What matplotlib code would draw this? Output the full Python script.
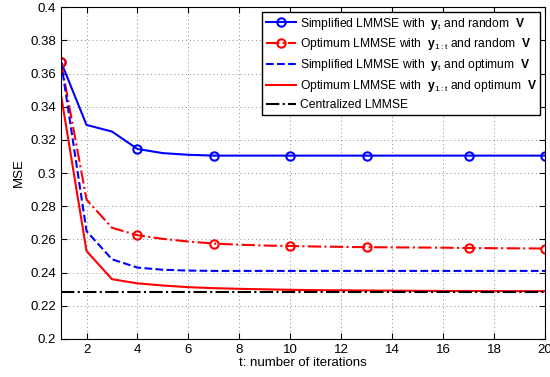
import matplotlib
matplotlib.use("Agg")
import matplotlib.pyplot as plt
import numpy as np

plt.rcParams['font.family'] = ['Liberation Sans', 'DejaVu Sans']
plt.rcParams['mathtext.fontset'] = 'custom'
plt.rcParams['mathtext.rm'] = 'Liberation Sans'
plt.rcParams['mathtext.bf'] = 'Liberation Sans:bold'
plt.rcParams['mathtext.it'] = 'Liberation Sans:italic'

t = list(range(1, 21))
simp_rand = [0.367, 0.329, 0.325, 0.3145, 0.312, 0.311, 0.3105, 0.3105, 0.3105, 0.3105,
             0.3105, 0.3105, 0.3105, 0.3105, 0.3105, 0.3105, 0.3105, 0.3105, 0.3105, 0.3105]
opt_rand = [0.367, 0.284, 0.267, 0.2625, 0.2603, 0.2587, 0.2575, 0.2568, 0.2563, 0.256,
            0.2557, 0.2555, 0.2553, 0.2552, 0.2551, 0.255, 0.2548, 0.2547, 0.2546, 0.2545]
simp_opt = [0.367, 0.265, 0.248, 0.243, 0.2417, 0.2412, 0.241, 0.241, 0.241, 0.241,
            0.241, 0.241, 0.241, 0.241, 0.241, 0.241, 0.241, 0.241, 0.241, 0.241]
opt_opt = [0.347, 0.253, 0.236, 0.2335, 0.2322, 0.2312, 0.2306, 0.2302, 0.2299, 0.2296,
           0.2294, 0.2293, 0.2292, 0.2291, 0.229, 0.2289, 0.2289, 0.2288, 0.2288, 0.2288]
central = [0.228] * 20
marker_t = [1, 4, 7, 10, 13, 17, 20]

labels = [r'Simplified LMMSE with  $\mathbf{y}_{\mathrm{t}}$ and random  $\mathbf{V}$',
          r'Optimum LMMSE with  $\mathbf{y}_{\mathrm{1:t}}$ and random  $\mathbf{V}$',
          r'Simplified LMMSE with  $\mathbf{y}_{\mathrm{t}}$ and optimum  $\mathbf{V}$',
          r'Optimum LMMSE with  $\mathbf{y}_{\mathrm{1:t}}$ and optimum  $\mathbf{V}$',
          'Centralized LMMSE']

fig = plt.figure(figsize=(5.5, 3.77), dpi=100)
ax = fig.add_axes([0.111, 0.101, 0.880, 0.880])

mk = [t.index(m) for m in marker_t]
ax.plot(t, simp_rand, '-', color='#0000ff', lw=1.5, marker='o', markevery=mk,
        ms=6, mfc='none', mec='#0000ff', mew=1.5, label=labels[0])
ax.plot(t, opt_rand, '-.', color='#ff0000', lw=1.5, marker='o', markevery=mk,
        ms=6, mfc='none', mec='#ff0000', mew=1.5, label=labels[1])
ax.plot(t, simp_opt, '--', color='#0000ff', lw=1.5, label=labels[2])
ax.plot(t, opt_opt, '-', color='#ff0000', lw=1.5, label=labels[3])
ax.plot(t, central, '-.', color='black', lw=1.5, label=labels[4])

ax.set_xlim(1, 20)
ax.set_ylim(0.2, 0.4)
ax.set_xticks(range(2, 21, 2))
ax.set_yticks(np.round(np.arange(0.2, 0.401, 0.02), 2))
ax.set_yticklabels(['0.2', '0.22', '0.24', '0.26', '0.28', '0.3', '0.32', '0.34', '0.36', '0.38', '0.4'])
ax.tick_params(direction='in', labelsize=9.5, length=4, top=True, right=True, width=0.8)
ax.grid(True, linestyle=(0, (1, 3)), color='#8c8c8c', lw=0.7)
for s in ax.spines.values():
    s.set_linewidth(0.8)
ax.set_xlabel('t: number of iterations', fontsize=9.5, labelpad=1)
ax.set_ylabel('MSE', fontsize=9.5)

leg = ax.legend(loc='upper right', fontsize=8.7, frameon=True, fancybox=False,
                edgecolor='black', framealpha=1, borderpad=0.3, labelspacing=0.4,
                handlelength=2.5, handletextpad=0.3, borderaxespad=0.4)
leg.get_frame().set_linewidth(1.0)

fig.savefig('out.png', dpi=100)
